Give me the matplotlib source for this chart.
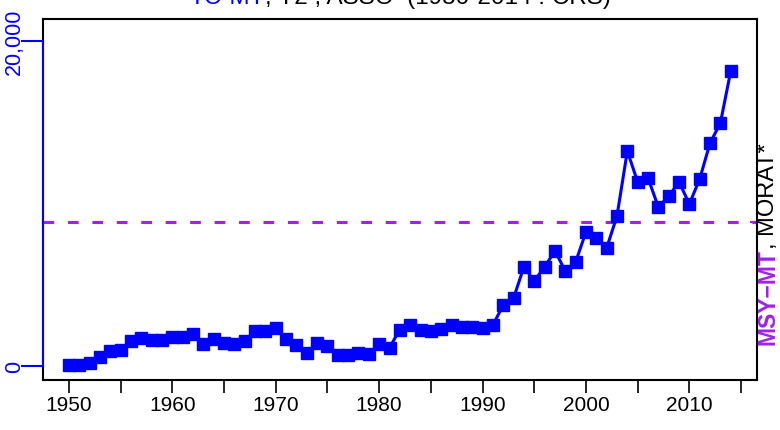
import numpy as np
import matplotlib
matplotlib.use("Agg")
import matplotlib.pyplot as plt

plt.rcParams['font.family'] = ['Liberation Sans', 'DejaVu Sans']

years = list(range(1950, 2015))
catch = [80, 80, 200, 570, 940, 1000, 1560, 1740, 1620, 1620,
         1800, 1800, 1990, 1370, 1680, 1410, 1370, 1560, 2150, 2150,
         2340, 1680, 1310, 820, 1430, 1250, 700, 700, 820, 760,
         1370, 1130, 2240, 2500, 2220, 2150, 2280, 2520, 2400, 2400,
         2350, 2520, 3750, 4180, 6100, 5230, 6100, 7080, 5850, 6400,
         8250, 7880, 7260, 9230, 13230, 11320, 11570, 9780, 10460, 11320,
         9970, 11510, 13720, 14950, 18150]
msy = 8860

title_main = "TC-MT"
title_rest = ", Y2 , ASSO  (1950-2014 : CRS)"
ref_main = "MSY\u2212MT"
ref_rest = ", MORAT*"

BLUE = "#0000FF"
PURPLE = "#A020F0"

fig = plt.figure(figsize=(7.8, 4.31), dpi=100)
ax = fig.add_axes([43 / 780, 50 / 431, 714 / 780, 361 / 431])

ax.plot(years, catch, color=BLUE, lw=2.2, marker="s", ms=8.5, mec=BLUE, mfc=BLUE, zorder=3)
ax.axhline(msy, color=PURPLE, lw=2.2, ls=(0, (3.5, 4.5)), zorder=2)

ax.set_xlim(1947.49, 2016.54)
ax.set_ylim(-862, 21354)

# x axis: ticks every 5 years, labels every 10
ax.set_xticks(np.arange(1950, 2016, 5))
ax.set_xticklabels([str(y) if y % 10 == 0 else "" for y in range(1950, 2016, 5)])
ax.tick_params(axis="x", length=9, width=1.2, labelsize=15, pad=2, colors="black")

# y axis in blue, labels rotated
ax.set_yticks([0, 20000])
ax.set_yticklabels(["0", "20,000"], rotation=90, va="center", color=BLUE)
ax.tick_params(axis="y", length=16, width=1.5, labelsize=15.5, pad=-3, colors=BLUE)
for lab in ax.get_yticklabels():
    lab.set_color(BLUE)
ax.spines["left"].set_bounds(0, 20000)
ax.spines["left"].set_color(BLUE)
ax.spines["left"].set_linewidth(1.5)
ax.spines["left"].set_zorder(5)
for s in ["top", "right", "bottom"]:
    ax.spines[s].set_linewidth(1.5)

# black frame edge on the left outside the blue axis range
ax.plot([0, 0], [0, 1], transform=ax.transAxes, color="black", lw=1.5, zorder=1, clip_on=False)

# small MSY ticks inside the frame
ax.plot([0, 0.008], [msy, msy], transform=ax.get_yaxis_transform(), color=PURPLE, lw=1.5, clip_on=False)
ax.plot([0.992, 1.0], [msy, msy], transform=ax.get_yaxis_transform(), color=PURPLE, lw=1.5, clip_on=False)

# title in two colours, partly above the figure edge
fig.canvas.draw()
r = fig.canvas.get_renderer()
t1 = fig.text(0, 1 - 4 / 431, title_main, color=BLUE, fontsize=17.5, va="baseline", ha="left")
t2 = fig.text(0, 1 - 4 / 431, title_rest, color="black", fontsize=17.5, va="baseline", ha="left")
w1 = t1.get_window_extent(r).width
w2 = t2.get_window_extent(r).width
x0 = 400 - (w1 + w2) / 2
t1.set_x(x0 / 780)
t2.set_x((x0 + w1) / 780)

# right-hand reference label
r1 = fig.text(779 / 780, 1 - 345 / 431, ref_main, color=PURPLE, fontsize=16.5, fontweight="bold",
              rotation=90, ha="right", va="bottom")
h1 = r1.get_window_extent(r).height
fig.text(779 / 780, 1 - (345 - h1) / 431, ref_rest, color="black", fontsize=17,
         rotation=90, ha="right", va="bottom")

fig.savefig("out.png", dpi=100)
